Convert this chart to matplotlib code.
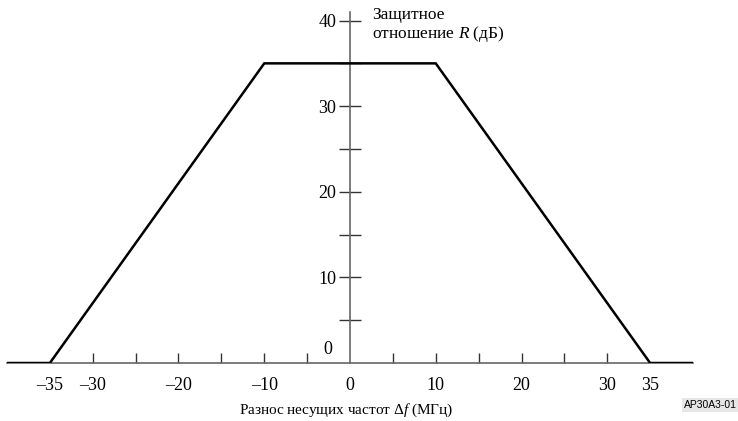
import numpy as np
import matplotlib.pyplot as plt

# данные
freq = [-40, -35, -10, 10, 35, 40]
ratio = [0, 0, 35, 35, 0, 0]
x_labels = [-35, -30, -20, -10, 0, 10, 20, 30, 35]
x_minor = [-30, -25, -20, -15, -10, -5, 5, 10, 15, 20, 25, 30]
y_labels = [10, 20, 30, 40]
y_minor = [5, 10, 15, 20, 25, 30, 35, 40]

plt.rcParams['font.family'] = ['Liberation Serif', 'DejaVu Serif']
plt.rcParams['mathtext.fontset'] = 'custom'
plt.rcParams['mathtext.it'] = 'Liberation Serif:italic'
plt.rcParams['mathtext.rm'] = 'Liberation Serif'

fig = plt.figure(figsize=(7.38, 4.21), dpi=100)
ax = fig.add_axes([7 / 738, 58 / 421, 686 / 738, 351 / 421])

ax.plot(freq, ratio, color='black', lw=1.8, solid_joinstyle='miter', zorder=3)
ax.set_xlim(-40, 40)
ax.set_ylim(0, 41)

axis_color = '#666666'
for s in ['top', 'right']:
    ax.spines[s].set_visible(False)
ax.spines['left'].set_position(('data', 0))
ax.spines['left'].set_color(axis_color)
ax.spines['bottom'].set_color(axis_color)
ax.spines['left'].set_linewidth(1.2)
ax.spines['bottom'].set_linewidth(1.2)

# малые деления совпадают с подписями - не убирать их
ax.xaxis.remove_overlapping_locs = False
ax.yaxis.remove_overlapping_locs = False

ax.set_xticks(x_labels)
ax.set_xticklabels([('\u2013%d' % -v) if v < 0 else str(v) for v in x_labels])
ax.set_xticks(x_minor, minor=True)
ax.tick_params(axis='x', which='major', length=0, pad=10, labelsize=13)
ax.tick_params(axis='x', which='minor', direction='in', length=7, width=1, color='#333333')

ax.set_yticks(y_labels)
ax.set_yticks(y_minor, minor=True)
ax.tick_params(axis='y', which='major', length=0, pad=10, labelsize=13)
ax.tick_params(axis='y', which='minor', direction='inout', length=16, width=1, color='#333333')
ax.text(-2.1, 0.55, '0', ha='right', va='bottom', fontsize=13)

ax.text(2.6, 39.4, 'Защитное\nотношение $R$ (дБ)', ha='left', va='center',
        fontsize=12.5, linespacing=1.1)
fig.text(346 / 738, 11 / 421, 'Разнос несущих частот Δ$f$ (МГц)', ha='center',
         va='center', fontsize=11)
fig.text(737 / 738, 16 / 421, 'AP30A3-01', ha='right', va='center', fontsize=7.5,
         family=['Liberation Sans', 'DejaVu Sans'],
         bbox=dict(facecolor='#e6e6e6', edgecolor='none', pad=1.5))

fig.savefig('out.png', dpi=100)
